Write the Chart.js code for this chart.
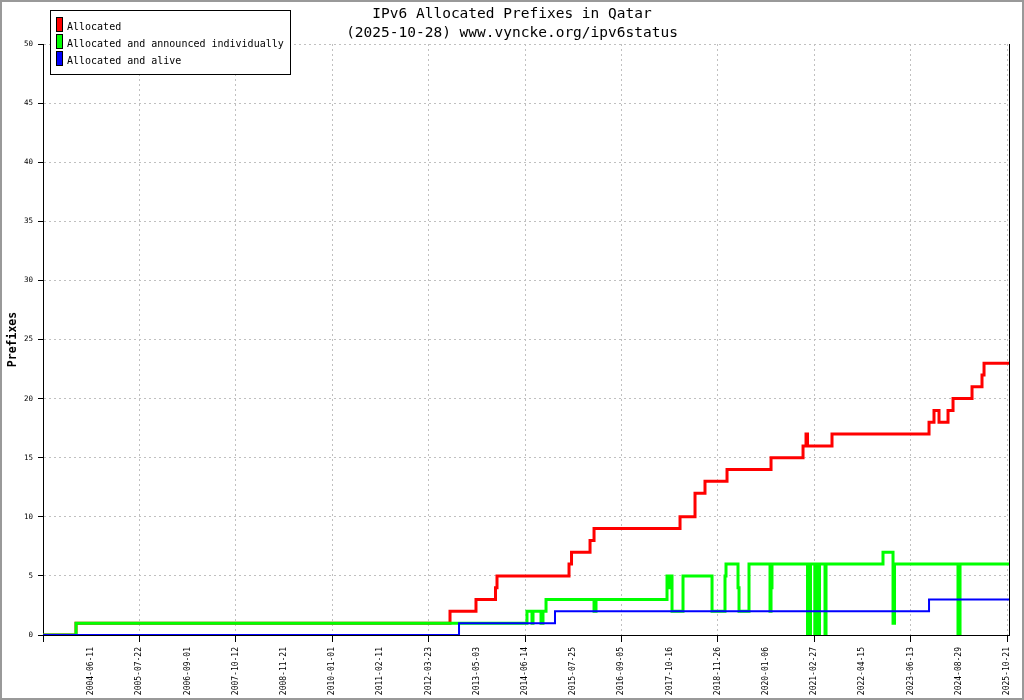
<!DOCTYPE html>
<html>
<head>
<meta charset="utf-8">
<script src="https://cdn.jsdelivr.net/npm/chart.js@4"></script>
<style>
  body { margin: 0; background: #fff; }
  canvas { display: block; }
</style>
</head>
<body>
<canvas id="chart" width="1024" height="700"></canvas>
<script>
const titleLines = ['IPv6 Allocated Prefixes in Qatar', '(2025-10-28) www.vyncke.org/ipv6status'];

// x positions are sample positions on the axis (tick label i sits at position i)
const tickLabels = ['', '2004-06-11', '2005-07-22', '2006-09-01', '2007-10-12', '2008-11-21',
  '2010-01-01', '2011-02-11', '2012-03-23', '2013-05-03', '2014-06-14', '2015-07-25',
  '2016-09-05', '2017-10-16', '2018-11-26', '2020-01-06', '2021-02-27', '2022-04-15',
  '2023-06-13', '2024-08-29', '2025-10-21'];
const xMax = 20.041;

const allocatedX = [0, 0.685, 8.444, 8.983, 9.388, 9.419, 10.913, 10.965, 11.349, 11.432, 13.216,
  13.527, 13.734, 14.191, 15.104, 15.768, 15.830, 15.861, 16.369, 18.382, 18.485, 18.589, 18.776,
  18.880, 19.274, 19.481, 19.523, 20.041];
const allocatedY = [0, 1, 2, 3, 4, 5, 6, 7, 8, 9, 10, 12, 13, 14, 15, 16, 17, 16, 17, 18, 19, 18,
  19, 20, 21, 22, 23, 23];

const announcedX = [0, 0.685, 10.041, 10.145, 10.166, 10.332, 10.373, 10.436, 11.432, 11.473,
  12.946, 12.988, 13.008, 13.050, 13.278, 13.880, 14.149, 14.170, 14.419, 14.440, 14.647, 15.083,
  15.104, 15.124, 15.861, 15.923, 16.012, 16.058, 16.068, 16.110, 16.224, 16.245, 17.427, 17.635,
  17.666, 18.983, 19.025, 20.041];
const announcedY = [0, 1, 2, 1, 2, 1, 2, 3, 2, 3,
  5, 4, 5, 2, 5, 2, 5, 6, 4, 2, 6, 2,
  4, 6, 0, 6, 0, 6, 0, 6, 0, 6, 7, 1,
  6, 0, 6, 6];

const aliveX = [0, 8.631, 10.622, 18.382, 20.041];
const aliveY = [0, 1, 2, 3, 3];

const toPoints = (xs, ys) => xs.map((x, i) => ({ x: x, y: ys[i] }));

const MONO = '"DejaVu Sans Mono", "Liberation Mono", monospace';

// title, legend box, right edge and outer frame
const decorations = {
  id: 'decorations',
  beforeDraw(chart) {
    const ctx = chart.ctx;
    ctx.save();
    ctx.fillStyle = '#fff';
    ctx.fillRect(0, 0, chart.width, chart.height);
    ctx.restore();
  },
  afterDraw(chart) {
    const { ctx, chartArea: a } = chart;
    ctx.save();

    ctx.strokeStyle = '#000';
    ctx.lineWidth = 1;
    ctx.beginPath();
    ctx.moveTo(a.right + 0.5, a.top);
    ctx.lineTo(a.right + 0.5, a.bottom);
    ctx.stroke();

    ctx.fillStyle = '#000';
    ctx.font = '14.5px ' + MONO;
    ctx.textAlign = 'center';
    ctx.textBaseline = 'alphabetic';
    ctx.fillText(titleLines[0], 512, 18);
    ctx.fillText(titleLines[1], 512, 37);

    // legend
    ctx.fillStyle = '#fff';
    ctx.fillRect(50, 10, 240, 64);
    ctx.strokeStyle = '#000';
    ctx.strokeRect(50.5, 10.5, 240, 64);
    ctx.font = '10px ' + MONO;
    ctx.textAlign = 'left';
    chart.data.datasets.forEach((ds, i) => {
      const top = 17 + i * 17;
      ctx.fillStyle = ds.borderColor;
      ctx.fillRect(56, top, 7, 15);
      ctx.strokeStyle = '#000';
      ctx.strokeRect(56.5, top + 0.5, 6, 14);
      ctx.fillStyle = '#000';
      ctx.fillText(ds.label, 67, top + 13);
    });

    ctx.strokeStyle = '#999';
    ctx.lineWidth = 2;
    ctx.strokeRect(1, 1, chart.width - 2, chart.height - 2);
    ctx.restore();
  }
};

new Chart(document.getElementById('chart'), {
  type: 'line',
  data: {
    datasets: [
      {
        label: 'Allocated',
        data: toPoints(allocatedX, allocatedY),
        borderColor: '#ff0000',
        borderWidth: 3,
        order: 3,
      },
      {
        label: 'Allocated and announced individually',
        data: toPoints(announcedX, announcedY),
        borderColor: '#00ff00',
        borderWidth: 3,
        order: 2,
      },
      {
        label: 'Allocated and alive',
        data: toPoints(aliveX, aliveY),
        borderColor: '#0000ff',
        borderWidth: 2,
        order: 1,
      },
    ],
  },
  options: {
    responsive: false,
    animation: false,
    devicePixelRatio: 1,
    layout: { padding: { top: 44, right: 15, left: 0, bottom: 0 } },
    elements: {
      line: { stepped: 'before', tension: 0, fill: false },
      point: { radius: 0, hoverRadius: 0 },
    },
    plugins: {
      legend: { display: false },
      title: { display: false },
      tooltip: { enabled: false },
    },
    scales: {
      x: {
        type: 'linear',
        min: 0,
        max: xMax,
        afterFit: scale => { scale.height = 65; },
        afterBuildTicks: scale => {
          scale.ticks = tickLabels.map((_, i) => ({ value: i }));
        },
        ticks: {
          autoSkip: false,
          minRotation: 90,
          maxRotation: 90,
          padding: 5,
          color: '#000',
          font: { family: MONO, size: 8 },
          callback: (value, i) => tickLabels[i],
        },
        grid: {
          color: c => (c.index % 2 === 0 ? '#c0c0c0' : 'rgba(0,0,0,0)'),
          tickColor: c => (c.index % 2 === 0 ? '#000' : 'rgba(0,0,0,0)'),
          tickLength: 7,
          lineWidth: 1,
        },
        border: { color: '#000', width: 1, dash: [2, 3] },
      },
      y: {
        min: 0,
        max: 50,
        afterFit: scale => { scale.width = 43; },
        ticks: {
          stepSize: 5,
          padding: 5,
          color: '#000',
          font: { family: MONO, size: 7.5 },
        },
        grid: {
          color: '#c0c0c0',
          tickColor: '#000',
          tickLength: 5,
          lineWidth: 1,
        },
        border: { color: '#000', width: 1, dash: [2, 3] },
        title: {
          display: true,
          text: 'Prefixes',
          color: '#000',
          font: { family: MONO, size: 11.5, weight: 'bold' },
          padding: { top: 6, bottom: 0 },
        },
      },
    },
  },
  plugins: [decorations],
});
</script>
</body>
</html>
